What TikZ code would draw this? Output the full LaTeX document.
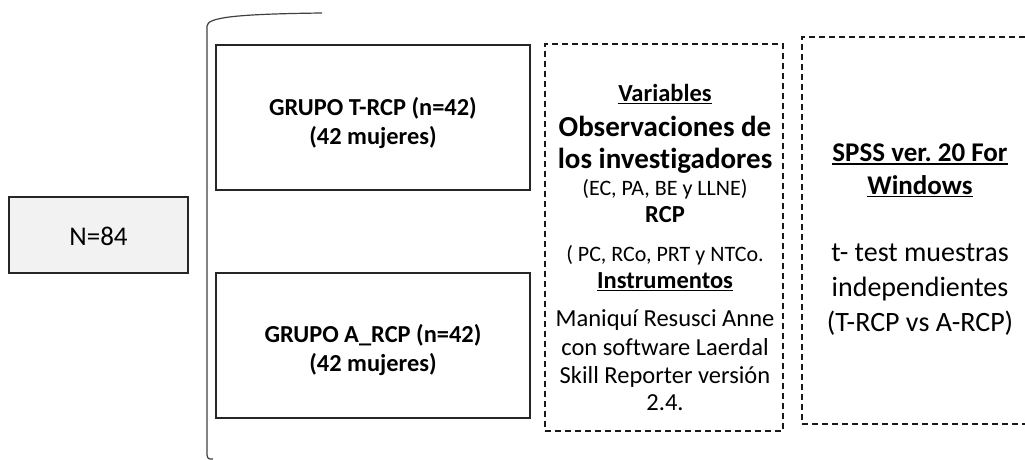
\documentclass[tikz,border=0pt]{standalone}
\usepackage{fontspec}
\setmainfont{Carlito}[Ligatures=NoCommon]
\usetikzlibrary{positioning}
\frenchspacing
\newcommand\fsz[1]{\fontsize{#1}{#1}\selectfont}
\newcommand\ulin[1]{\setbox0\hbox{#1}\rlap{\rule[-3pt]{\wd0}{1.5pt}}\box0}

\begin{document}
\begin{tikzpicture}[x=1pt,y=-1pt,
    solidbox/.style={draw=black!85, line width=1.5pt, inner sep=0pt},
    dashbox/.style={draw=black!90, line width=1.4pt, dash pattern=on 6pt off 4pt, inner sep=0pt},
    txt/.style={inner sep=0pt, anchor=base}]

    \clip (0,0) rectangle (1025,460);

    % Muestra
    \node at (98.5, 235) [solidbox, fill=black!5, minimum width=179, minimum height=76] (total) {};
    \node at (98.5, 245) [txt] (totaltxt) {\fsz{27}N=84};

    % Llave
    \draw[black!75, line width=1.2pt] (213,459) .. controls (208,459) .. (207,455) -- (207,26)
        .. controls (207,17) and (240,14) .. (322,13);

    % Grupos
    \node at (373, 117.5) [solidbox, minimum width=314, minimum height=145] (grpT) {};
    \node at (373, 115) [txt] (grpTa) {\fsz{24.4}\bfseries GRUPO T-RCP (n=42)};
    \node at (373, 144) [txt] (grpTb) {\fsz{24.4}\bfseries (42 mujeres)};
    \node at (373, 345.5) [solidbox, minimum width=314, minimum height=145] (grpA) {};
    \node at (373, 342) [txt] (grpAa) {\fsz{24.4}\bfseries GRUPO A\_RCP (n=42)};
    \node at (373, 371) [txt] (grpAb) {\fsz{24.4}\bfseries (42 mujeres)};

    % Variables
    \node at (664, 237.5) [dashbox, minimum width=238, minimum height=387] (vars) {};
    \node at (665, 101) [txt] (v1) {\fsz{24.5}\bfseries\ulin{Variables}};
    \node at (665, 136) [txt] (v2) {\fsz{29}\bfseries Observaciones de};
    \node at (665, 168) [txt] (v3) {\fsz{29}\bfseries los investigadores};
    \node at (665, 195) [txt] (v4) {\fsz{22}(EC, PA, BE y LLNE)};
    \node at (665, 222) [txt] (v5) {\fsz{24.5}\bfseries RCP};
    \node at (665, 261) [txt] (v6) {\fsz{22}( PC, RCo, PRT y NTCo.};
    \node at (665, 288) [txt] (v7) {\fsz{24.5}\bfseries\ulin{Instrumentos}};
    \node at (665, 326) [txt] (v8) {\fsz{24.5}Maniquí Resusci Anne};
    \node at (665, 355) [txt] (v9) {\fsz{24.5}con software Laerdal};
    \node at (665, 383) [txt] (v10) {\fsz{24.5}Skill Reporter versión};
    \node at (665, 410) [txt] (v11) {\fsz{24.5}2.4.};

    % Analisis
    \node at (921, 230.5) [dashbox, minimum width=238, minimum height=387] (stats) {};
    \node at (920, 161.5) [txt] (s1) {\fsz{27}\bfseries\ulin{SPSS ver. 20 For}};
    \node at (920, 194) [txt] (s2) {\fsz{27}\bfseries\ulin{Windows}};
    \node at (920, 261) [txt] (s3) {\fsz{28}t- test muestras};
    \node at (920, 296) [txt] (s4) {\fsz{28}independientes};
    \node at (920, 331) [txt] (s5) {\fsz{28}(T-RCP vs A-RCP)};
\end{tikzpicture}
\end{document}
